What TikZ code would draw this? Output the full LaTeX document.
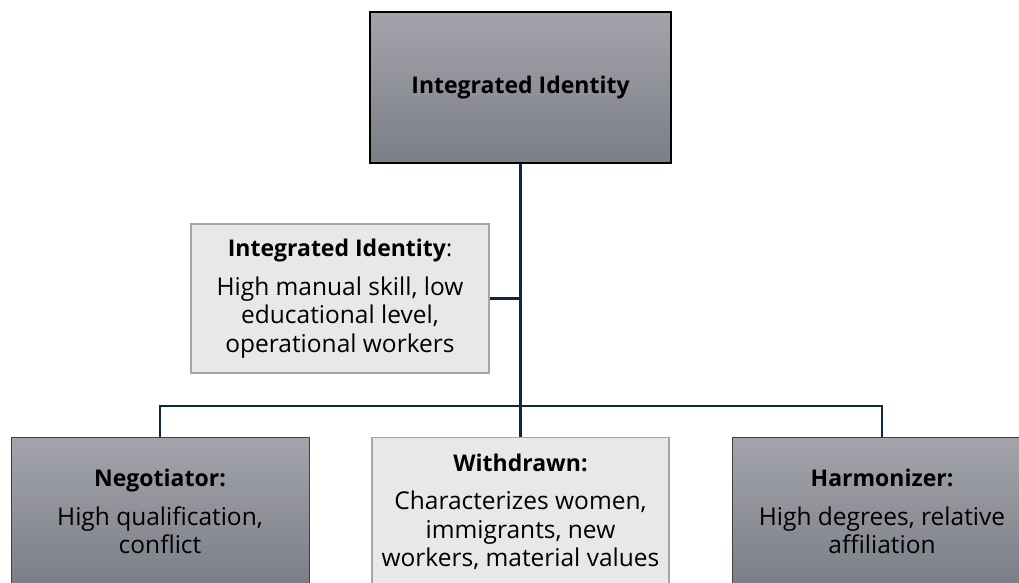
\documentclass[tikz,border=0pt]{standalone}
\usepackage{fontspec}
\setmainfont{Open Sans}
\usetikzlibrary{positioning}
\definecolor{linkcol}{HTML}{0E2841}
\definecolor{darktop}{HTML}{A3A4AB}
\definecolor{darkbot}{HTML}{7C7E87}
\definecolor{lightfill}{HTML}{E8E8E8}
\definecolor{lightedge}{HTML}{A6A6A6}
\tikzset{
  x=1pt, y=-1pt,
  txt/.style={font=\fontsize{24.5}{28.5}\selectfont, align=center, inner sep=0pt},
  darkbox/.style={txt, draw=black!75, line width=1pt, top color=darktop, bottom color=darkbot},
  lightbox/.style={txt, draw=lightedge, line width=1.2pt, fill=lightfill},
  headbox/.style={darkbox, draw=black, line width=2.5pt},
  link/.style={draw=linkcol, line width=2.5pt},
}
\newcommand{\hd}[1]{{\fontsize{23}{28.5}\selectfont\bfseries #1}}
\begin{document}
\begin{tikzpicture}
\useasboundingbox (0,0) rectangle (1019,582);
\clip (0,0) rectangle (1019,582);
\fill[white] (0,0) rectangle (1019,582);

% top box
\node[headbox, minimum width=301pt, minimum height=151pt] (top) at (520.5,87.5) {\hd{Integrated Identity}};

% side description box
\node[lightbox, minimum width=298pt, minimum height=149pt] (side) at (340,298.5)
  {\hd{Integrated Identity}{\fontsize{23}{28.5}\selectfont:}\\[10pt] High manual skill, low\\ educational level,\\ operational workers};

% bottom row
\node[darkbox, minimum width=298pt, minimum height=148pt, anchor=north] (neg) at (160,437)
  {\hd{Negotiator:}\\[10pt] High qualification,\\ conflict};
\node[lightbox, minimum width=297pt, minimum height=148pt, anchor=north] (wd) at (520.5,437)
  {\hd{Withdrawn:}\\[10pt] Characterizes women,\\ immigrants, new\\ workers, material values};
\node[darkbox, minimum width=300pt, minimum height=148pt, anchor=north] (harm) at (882,437)
  {\hd{Harmonizer:}\\[10pt] High degrees, relative\\ affiliation};

% connectors
\coordinate (hub) at (520.5,406);
\coordinate (sidejoin) at (side.east -| hub);
\draw[link] (top.south) -- (hub);
\draw[link] (side.east) -- (sidejoin);
\draw[link] (neg.north) -- (neg.north |- hub) -- (harm.north |- hub) -- (harm.north);
\draw[link] (hub) -- (wd.north);
\end{tikzpicture}
\end{document}
